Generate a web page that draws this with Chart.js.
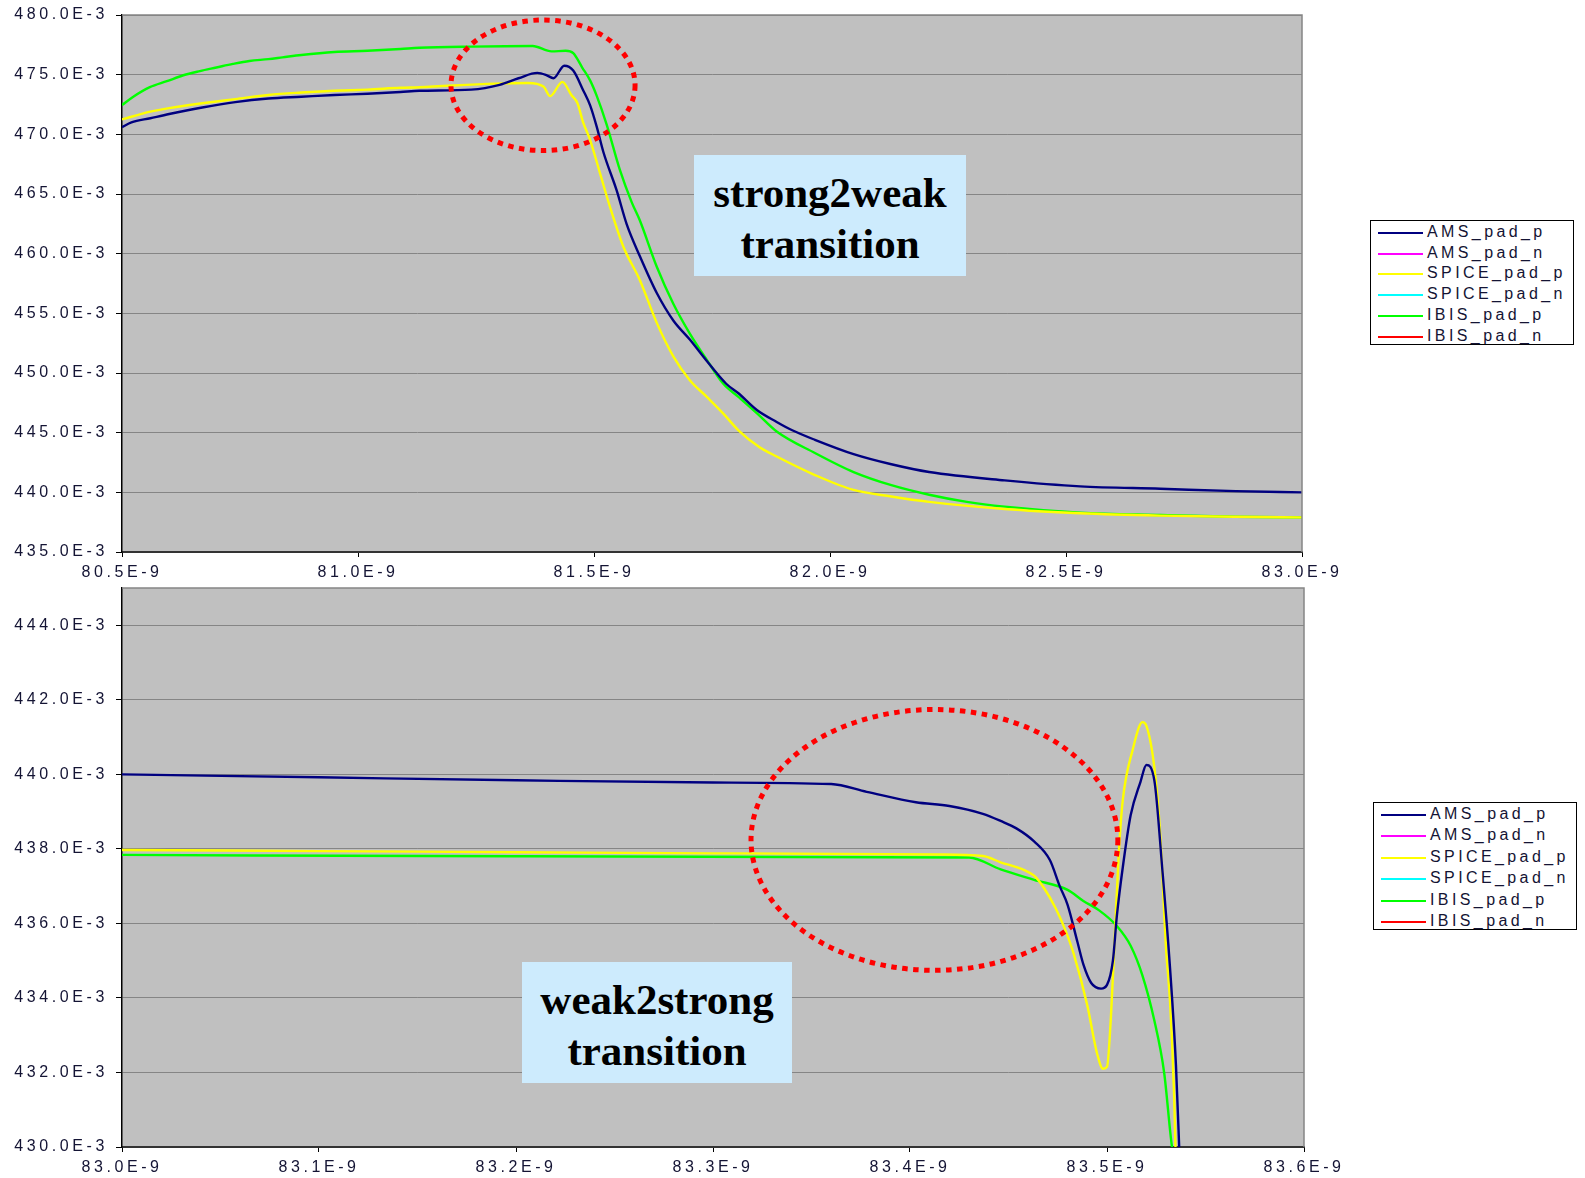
<!DOCTYPE html>
<html>
<head>
<meta charset="utf-8">
<script src="https://cdn.jsdelivr.net/npm/chart.js@4.4.1/dist/chart.umd.min.js"></script>
<style>
html, body { margin: 0; padding: 0; background: #fff; overflow: hidden; }
.chartbox { position: absolute; left: 0; width: 1585px; }
.note {
	position: absolute; background: #cdebfd; box-sizing: border-box; padding-top: 12px;
	font-family: "Liberation Serif", "Times New Roman", serif; font-weight: bold;
	font-size: 43px; line-height: 51px; text-align: center; color: #000;
}
.legend {
	position: absolute; background: #fff; border: 1px solid #000; box-sizing: border-box;
	font-family: "Liberation Sans", Arial, sans-serif; font-size: 16px; letter-spacing: 3.4px; color: #141434;
}
.legend .row { position: absolute; left: 0; right: 0; }
.legend .swatch { position: absolute; left: 7px; width: 45px; height: 2px; }
.legend .label { position: absolute; left: 56px; white-space: nowrap; }
</style>
</head>
<body>
<div class="chartbox" style="top:0;height:580px"><canvas id="topChart"></canvas></div>
<div class="chartbox" style="top:580px;height:598px"><canvas id="bottomChart"></canvas></div>
<div class="note" style="left:694px;top:155px;width:272px;height:121px">strong2weak<br>transition</div>
<div class="note" style="left:522px;top:962px;width:270px;height:121px">weak2strong<br>transition</div>
<div class="legend" id="topLegend" style="left:1370px;top:220px;width:204px;height:125px"></div>
<div class="legend" id="bottomLegend" style="left:1373px;top:802px;width:204px;height:128px"></div>
<script>
// series names and colours
const seriesNames = ['AMS_pad_p', 'AMS_pad_n', 'SPICE_pad_p', 'SPICE_pad_n', 'IBIS_pad_p', 'IBIS_pad_n'];
const seriesColors = ['#000080', '#ff00ff', '#ffff00', '#00ffff', '#00ff00', '#ff0000'];

// top chart, time in ns, voltage in mV
const topAmsT = [80.50, 80.52, 80.56, 80.60, 80.67, 80.74, 80.81, 80.88, 80.95, 81.02, 81.09, 81.13, 81.24, 81.30, 81.34, 81.38, 81.40, 81.414, 81.437, 81.456, 81.477, 81.492, 81.506, 81.52, 81.548, 81.569, 81.597, 81.633, 81.668, 81.703, 81.739, 81.78, 81.806, 81.845, 81.887, 81.92, 81.968, 82.05, 82.13, 82.21, 82.37, 82.53, 82.70, 82.86, 83.00];
const topAmsV = [470.6, 471.0, 471.35, 471.7, 472.25, 472.7, 473.0, 473.15, 473.3, 473.4, 473.55, 473.65, 473.75, 474.15, 474.7, 475.15, 474.95, 474.7, 475.75, 475.35, 473.7, 472.4, 470.6, 468.5, 465.3, 462.5, 459.8, 456.7, 454.4, 452.8, 451.0, 449.1, 448.3, 446.9, 445.9, 445.2, 444.4, 443.2, 442.35, 441.7, 441.0, 440.5, 440.3, 440.1, 440.0];

const topSpiceT = [80.50, 80.56, 80.60, 80.67, 80.74, 80.81, 80.88, 80.95, 81.02, 81.09, 81.13, 81.29, 81.36, 81.393, 81.407, 81.433, 81.452, 81.465, 81.477, 81.492, 81.513, 81.534, 81.562, 81.597, 81.633, 81.668, 81.703, 81.739, 81.774, 81.806, 81.85, 81.887, 81.968, 82.05, 82.13, 82.21, 82.37, 82.53, 82.70, 82.86, 83.00];
const topSpiceV = [471.25, 471.9, 472.2, 472.6, 472.95, 473.3, 473.5, 473.65, 473.75, 473.9, 473.95, 474.25, 474.3, 474.0, 473.2, 474.4, 473.3, 472.6, 471.0, 469.5, 466.7, 463.9, 460.6, 457.8, 454.2, 451.4, 449.4, 448.0, 446.6, 445.2, 443.8, 443.0, 441.45, 440.2, 439.65, 439.2, 438.6, 438.25, 438.05, 437.95, 437.9];

const topIbisT = [80.50, 80.524, 80.559, 80.595, 80.63, 80.665, 80.70, 80.735, 80.77, 80.81, 80.84, 80.88, 80.95, 81.02, 81.09, 81.13, 81.24, 81.37, 81.41, 81.44, 81.456, 81.475, 81.492, 81.506, 81.527, 81.555, 81.58, 81.597, 81.633, 81.668, 81.703, 81.739, 81.774, 81.806, 81.846, 81.887, 81.968, 82.05, 82.13, 82.21, 82.29, 82.37, 82.53, 82.70, 82.86, 83.00];
const topIbisV = [472.45, 473.15, 473.95, 474.45, 474.95, 475.3, 475.6, 475.9, 476.15, 476.3, 476.45, 476.65, 476.9, 477.0, 477.15, 477.25, 477.35, 477.4, 476.95, 477.0, 476.8, 475.6, 474.5, 473.2, 470.8, 467.0, 464.3, 462.8, 458.9, 455.8, 453.3, 451.1, 449.1, 448.0, 446.6, 445.1, 443.3, 441.7, 440.6, 439.8, 439.2, 438.8, 438.3, 438.1, 437.95, 437.9];

// bottom chart
const botAmsT = [83.00, 83.10, 83.20, 83.30, 83.36, 83.378, 83.403, 83.42, 83.437, 83.446, 83.454, 83.463, 83.471, 83.476, 83.480, 83.485, 83.488, 83.492, 83.497, 83.500, 83.503, 83.505, 83.508, 83.512, 83.517, 83.520, 83.524, 83.528, 83.532, 83.535, 83.537];
const botAmsV = [440.0, 439.92, 439.84, 439.78, 439.74, 439.53, 439.25, 439.15, 438.94, 438.75, 438.55, 438.2, 437.7, 437.0, 436.5, 435.5, 434.9, 434.4, 434.25, 434.35, 435.0, 436.2, 437.5, 438.9, 439.8, 440.25, 439.85, 437.5, 434.8, 432.2, 429.5];

const botSpiceT = [83.00, 83.10, 83.20, 83.30, 83.415, 83.437, 83.446, 83.458, 83.463, 83.468, 83.474, 83.479, 83.483, 83.490, 83.495, 83.498, 83.500, 83.502, 83.504, 83.506, 83.508, 83.513, 83.518, 83.520, 83.524, 83.527, 83.530, 83.532, 83.534, 83.535];
const botSpiceV = [437.97, 437.94, 437.91, 437.88, 437.85, 437.81, 437.64, 437.43, 437.28, 436.95, 436.4, 435.8, 435.2, 433.8, 432.5, 432.1, 432.15, 433.5, 435.7, 437.9, 439.3, 440.65, 441.4, 441.3, 440.2, 438.4, 435.3, 433.9, 431.5, 429.5];

const botIbisT = [83.00, 83.20, 83.43, 83.446, 83.463, 83.480, 83.488, 83.496, 83.505, 83.512, 83.518, 83.524, 83.529, 83.533, 83.535];
const botIbisV = [437.84, 437.80, 437.77, 437.45, 437.17, 436.9, 436.6, 436.35, 435.93, 435.4, 434.6, 433.4, 432.0, 430.0, 429.5];

const tickFont = { family: '"Liberation Sans", Arial, sans-serif', size: 16 };
const tickColor = '#141434';

function points(ts, vs)
{
	return ts.map((t, i) => ({ x: t, y: vs[i] }));
}

function makeDatasets(ams, spice, ibis)
{
	const all = [ams, [], spice, [], ibis, []];
	return seriesNames.map((name, i) => ({
		label: name,
		data: all[i],
		borderColor: seriesColors[i],
		borderWidth: 2.4,
		pointRadius: 0,
		cubicInterpolationMode: 'monotone',
		clip: 0
	}));
}

// grey plot area, wide letter spacing, top/right frame
const plotFrame = {
	id: 'plotFrame',
	beforeDraw(chart)
	{
		const a = chart.chartArea;
		const c = chart.ctx;
		c.save();
		c.fillStyle = '#c0c0c0';
		c.fillRect(a.left, a.top, a.right - a.left, a.bottom - a.top);
		c.restore();
		c.letterSpacing = '3.6px';
	},
	afterDraw(chart)
	{
		const a = chart.chartArea;
		const c = chart.ctx;
		c.letterSpacing = '0px';
		c.save();
		c.strokeStyle = '#858585';
		c.lineWidth = 1.5;
		c.beginPath();
		c.moveTo(a.left, a.top);
		c.lineTo(a.right, a.top);
		c.lineTo(a.right, a.bottom);
		c.stroke();
		c.restore();
	}
};

// red dotted ellipse marking the transition region
const ring = {
	id: 'ring',
	afterDatasetsDraw(chart, args, opts)
	{
		const xs = chart.scales.x, ys = chart.scales.y;
		const cx = xs.getPixelForValue(opts.cx);
		const cy = ys.getPixelForValue(opts.cy);
		const rx = Math.abs(xs.getPixelForValue(opts.cx + opts.rx) - cx);
		const ry = Math.abs(ys.getPixelForValue(opts.cy + opts.ry) - cy);
		const c = chart.ctx;
		c.save();
		c.strokeStyle = '#ff0000';
		c.lineWidth = 5;
		c.setLineDash([5.5, 5.5]);
		c.beginPath();
		c.ellipse(cx, cy, rx, ry, 0, 0, Math.PI * 2);
		c.stroke();
		c.restore();
	}
};

function makeChart(id, datasets, xr, yr, pad, xHeight, ringOpts)
{
	return new Chart(document.getElementById(id), {
		type: 'line',
		data: { datasets: datasets },
		plugins: [plotFrame, ring],
		options: {
			responsive: true,
			maintainAspectRatio: false,
			animation: false,
			events: [],
			layout: { padding: pad },
			plugins: { legend: { display: false }, tooltip: { enabled: false }, ring: ringOpts },
			scales: {
				x: {
					type: 'linear', min: xr[0], max: xr[1],
					afterFit: s => { s.height = xHeight; },
					grid: { drawOnChartArea: false, tickLength: 5, tickColor: '#000' },
					border: { color: '#333', width: 2 },
					ticks: {
						stepSize: xr[2], maxRotation: 0, autoSkip: false, padding: 6,
						font: tickFont, color: tickColor,
						callback: v => v.toFixed(1) + 'E-9'
					}
				},
				y: {
					min: yr[0], max: yr[1],
					afterFit: s => { s.width = 122; s.paddingTop = 0; s.paddingBottom = 0; },
					grid: { color: '#858585', lineWidth: 1, tickLength: 6, tickColor: '#000' },
					border: { color: '#000', width: 1.5 },
					ticks: {
						stepSize: yr[2], includeBounds: false, padding: 8,
						font: tickFont, color: tickColor,
						callback: v => v.toFixed(1) + 'E-3'
					}
				}
			}
		}
	});
}

function buildLegend(el, pitch, first)
{
	seriesNames.forEach((name, i) => {
		const row = document.createElement('div');
		row.className = 'row';
		row.style.top = (first + i * pitch - 9) + 'px';
		row.style.height = '18px';
		row.innerHTML = `<span class="swatch" style="top:9px;background:${seriesColors[i]}"></span>` +
			`<span class="label" style="top:0;line-height:18px">${name}</span>`;
		el.appendChild(row);
	});
}

function main()
{
	makeChart('topChart',
		makeDatasets(points(topAmsT, topAmsV), points(topSpiceT, topSpiceV), points(topIbisT, topIbisV)),
		[80.5, 83.0, 0.5], [435, 480, 5],
		{ left: 0, top: 15, right: 283, bottom: 0 }, 28,
		{ cx: 81.392, cy: 474.11, rx: 0.195, ry: 5.47 });

	makeChart('bottomChart',
		makeDatasets(points(botAmsT, botAmsV), points(botSpiceT, botSpiceV), points(botIbisT, botIbisV)),
		[83.0, 83.6, 0.1], [430, 445, 2],
		{ left: 0, top: 8, right: 281, bottom: 0 }, 31,
		{ cx: 83.4124, cy: 438.24, rx: 0.0931, ry: 3.50 });

	buildLegend(document.getElementById('topLegend'), 20.7, 11);
	buildLegend(document.getElementById('bottomLegend'), 21.4, 11);
}

main();
</script>
</body>
</html>
